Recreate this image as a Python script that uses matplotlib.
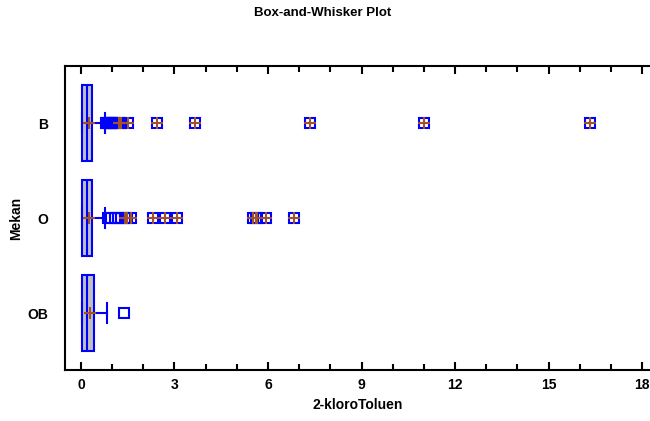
import matplotlib.pyplot as plt
from matplotlib.ticker import MultipleLocator

plt.rcParams['font.family'] = ['Liberation Sans', 'DejaVu Sans']
plt.rcParams['font.weight'] = 'bold'

groups = ['B', 'O', 'OB']
q1 = [0.03, 0.03, 0.03]
med = [0.18, 0.18, 0.18]
q3 = [0.36, 0.36, 0.41]
lo = [0.05, 0.05, 0.05]
hi = [0.77, 0.77, 0.84]
means = [0.26, 0.27, 0.29]

# outside points (square) and far outside points (square + cross)
out_B = [0.80, 0.84, 0.88, 0.92, 0.96, 1.00, 1.05, 1.10]
far_B = [1.22, 1.30, 1.52, 2.43, 3.66, 7.35, 11.0, 16.33]
out_O = [0.87, 0.98, 1.09, 1.20, 1.30]
far_O = [1.40, 1.48, 1.60, 2.32, 2.69, 3.09, 5.52, 5.60, 5.66, 5.93, 6.84]
out_OB = [1.39]
far_OB = []

outs = [out_B, out_O, out_OB]
fars = [far_B, far_O, far_OB]

blue = '#0000FF'
brown = '#A0522D'

fig = plt.figure(figsize=(6.5, 4.21), dpi=100)
ax = fig.add_axes([0.1, 0.121, 0.9, 0.722])

stats = []
for i, g in enumerate(groups):
    stats.append({'label': g, 'q1': q1[i], 'med': med[i], 'q3': q3[i],
                  'whislo': lo[i], 'whishi': hi[i], 'mean': means[i],
                  'fliers': outs[i] + fars[i]})

ax.bxp(stats, positions=[0, 1, 2], widths=0.8, orientation='horizontal',
       patch_artist=True, showmeans=True, showfliers=True,
       boxprops=dict(facecolor='#C0C0C0', edgecolor=blue, linewidth=1.5),
       medianprops=dict(color=blue, linewidth=1.5),
       whiskerprops=dict(color=blue, linewidth=1.5),
       capprops=dict(color=blue, linewidth=1.5),
       capwidths=0.21,
       meanprops=dict(marker='+', markeredgecolor=brown, markersize=8, markeredgewidth=1.5),
       flierprops=dict(marker='s', markerfacecolor='none', markeredgecolor=blue,
                       markersize=6.5, markeredgewidth=1.5))

for i in range(len(groups)):
    if fars[i]:
        ax.plot(fars[i], [i] * len(fars[i]), linestyle='none', marker='+',
                markeredgecolor=brown, markersize=8, markeredgewidth=1.5)

ax.set_xlim(-0.51, 18.25)
ax.set_ylim(2.6, -0.6)
ax.set_yticks([0, 1, 2])
ax.set_yticklabels(groups)
ax.xaxis.set_major_locator(MultipleLocator(3))
ax.xaxis.set_minor_locator(MultipleLocator(1))
ax.tick_params(axis='x', which='both', direction='in', top=True, bottom=True,
               width=1.5, labelsize=10, pad=6)
ax.tick_params(axis='x', which='major', length=6)
ax.tick_params(axis='x', which='minor', length=4)
ax.tick_params(axis='y', length=0, labelsize=10, pad=12)
ax.spines['right'].set_visible(False)
for s in ['left', 'top', 'bottom']:
    ax.spines[s].set_linewidth(1.5)

ax.set_xlabel('2-kloroToluen', fontsize=10, fontweight='bold', labelpad=4)
ax.set_ylabel('Mekan', fontsize=10, fontweight='bold')
ax.yaxis.set_label_coords(-0.072, 0.5)
fig.text(0.497, 0.969, 'Box-and-Whisker Plot', ha='center', va='center',
         fontsize=9.5, fontweight='bold')

fig.savefig('out.png', dpi=100)
